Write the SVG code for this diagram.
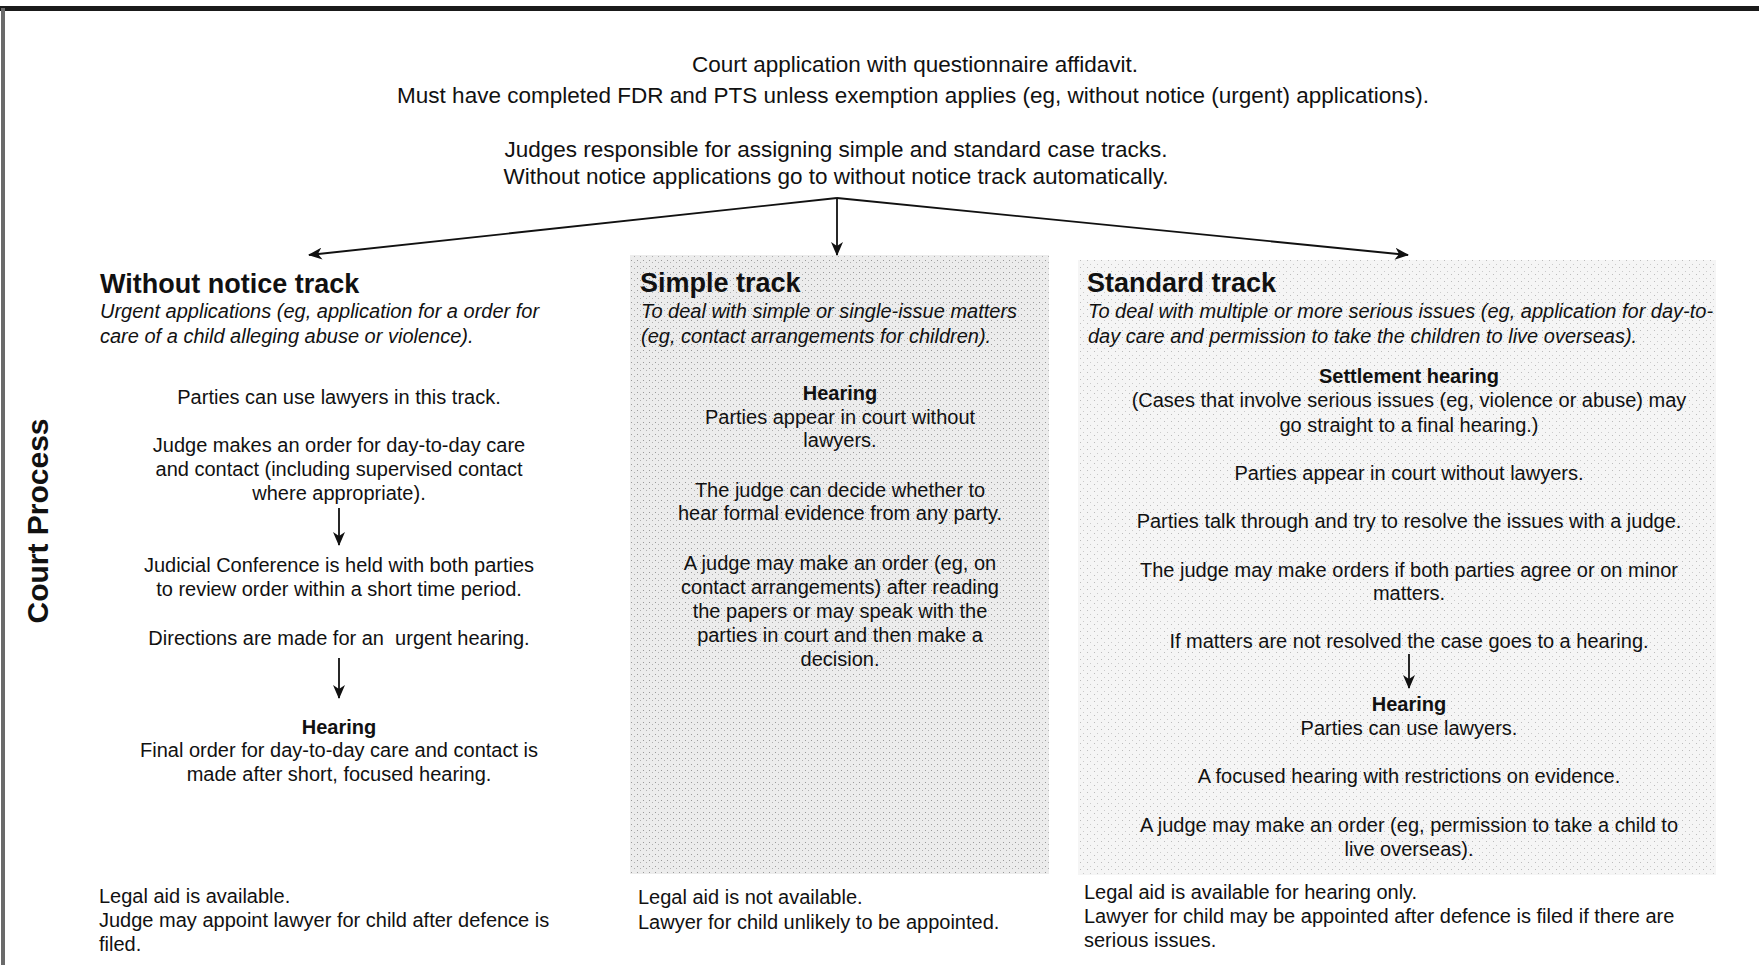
<svg xmlns="http://www.w3.org/2000/svg" width="1759" height="965" viewBox="0 0 1759 965">
<style>
text{font-family:"Liberation Sans",Arial,sans-serif;fill:#111;}
.top{font-size:22.5px;text-anchor:middle;}
.t{font-size:20px;}
.c{font-size:20px;text-anchor:middle;}
.b{font-weight:bold;}
.i{font-style:italic;}
.h{font-size:27px;font-weight:bold;}
.conn{stroke:#111;stroke-width:1.8;fill:none;}
</style>
<defs>
<pattern id="dots" width="6" height="6" patternUnits="userSpaceOnUse">
<rect width="6" height="6" fill="#ececec"/>
<rect x="1" y="2" width="1" height="1" fill="#9a9a9a"/>
<rect x="4" y="4" width="1" height="1" fill="#b0b0b0"/>
</pattern>
<pattern id="dots2" width="7" height="7" patternUnits="userSpaceOnUse">
<rect width="7" height="7" fill="#f5f5f5"/>
<rect x="2" y="1" width="1" height="1" fill="#bcbcbc"/>
<rect x="5" y="5" width="1" height="1" fill="#cacaca"/>
</pattern>
<marker id="ah" markerWidth="14" markerHeight="12" refX="13" refY="6" orient="auto" markerUnits="userSpaceOnUse">
<path d="M0,0 L14,6 L0,12 L4,6 Z" fill="#111"/>
</marker>
</defs>
<rect width="1759" height="965" fill="#fff"/>
<g id="frame">
<rect x="0" y="6" width="1759" height="5" fill="#1a1a1a"/>
<rect x="1" y="8" width="4" height="957" fill="#6a6a6a"/>
</g>
<g id="shading">
<rect x="630" y="255" width="419" height="619" fill="url(#dots)"/>
<rect x="1078" y="260" width="638" height="615" fill="url(#dots2)"/>
</g>
<g id="title-side">
<text class="b" font-size="30" transform="translate(48,521) rotate(-90)" text-anchor="middle">Court Process</text>
</g>
<g id="application">
<text class="top" x="915" y="72">Court application with questionnaire affidavit.</text>
<text class="top" x="913" y="103">Must have completed FDR and PTS unless exemption applies (eg, without notice (urgent) applications).</text>
</g>
<g id="assignment">
<text class="top" x="836" y="157">Judges responsible for assigning simple and standard case tracks.</text>
<text class="top" x="836" y="184">Without notice applications go to without notice track automatically.</text>
</g>
<g id="connectors">
<path class="conn" d="M837,198 L309,255" marker-end="url(#ah)"/>
<path class="conn" d="M837,198 L837,255" marker-end="url(#ah)"/>
<path class="conn" d="M837,198 L1408,255" marker-end="url(#ah)"/>
<path class="conn" d="M339,508 L339,545" marker-end="url(#ah)"/>
<path class="conn" d="M339,658 L339,698" marker-end="url(#ah)"/>
<path class="conn" d="M1409,654 L1409,688" marker-end="url(#ah)"/>
</g>
<g id="without-notice-track">
<text class="h" x="100" y="293">Without notice track</text>
<text class="t i" x="100" y="318">Urgent applications (eg, application for a order for</text>
<text class="t i" x="100" y="343">care of a child alleging abuse or violence).</text>
<text class="c" x="339" y="404">Parties can use lawyers in this track.</text>
<text class="c" x="339" y="452">Judge makes an order for day-to-day care</text>
<text class="c" x="339" y="476">and contact (including supervised contact</text>
<text class="c" x="339" y="500">where appropriate).</text>
<text class="c" x="339" y="572">Judicial Conference is held with both parties</text>
<text class="c" x="339" y="596">to review order within a short time period.</text>
<text class="c" x="339" y="645" xml:space="preserve">Directions are made for an  urgent hearing.</text>
<text class="c b" x="339" y="734">Hearing</text>
<text class="c" x="339" y="757">Final order for day-to-day care and contact is</text>
<text class="c" x="339" y="781">made after short, focused hearing.</text>
<text class="t" x="99" y="903">Legal aid is available.</text>
<text class="t" x="99" y="927">Judge may appoint lawyer for child after defence is</text>
<text class="t" x="99" y="951">filed.</text>
</g>
<g id="simple-track">
<text class="h" x="640" y="292">Simple track</text>
<text class="t i" x="641" y="318">To deal with simple or single-issue matters</text>
<text class="t i" x="641" y="343">(eg, contact arrangements for children).</text>
<text class="c b" x="840" y="400">Hearing</text>
<text class="c" x="840" y="424">Parties appear in court without</text>
<text class="c" x="840" y="447">lawyers.</text>
<text class="c" x="840" y="497">The judge can decide whether to</text>
<text class="c" x="840" y="520">hear formal evidence from any party.</text>
<text class="c" x="840" y="570">A judge may make an order (eg, on</text>
<text class="c" x="840" y="594">contact arrangements) after reading</text>
<text class="c" x="840" y="618">the papers or may speak with the</text>
<text class="c" x="840" y="642">parties in court and then make a</text>
<text class="c" x="840" y="666">decision.</text>
<text class="t" x="638" y="904">Legal aid is not available.</text>
<text class="t" x="638" y="929">Lawyer for child unlikely to be appointed.</text>
</g>
<g id="standard-track">
<text class="h" x="1087" y="292">Standard track</text>
<text class="t i" x="1088" y="318">To deal with multiple or more serious issues (eg, application for day-to-</text>
<text class="t i" x="1088" y="343">day care and permission to take the children to live overseas).</text>
<text class="c b" x="1409" y="383">Settlement hearing</text>
<text class="c" x="1409" y="407">(Cases that involve serious issues (eg, violence or abuse) may</text>
<text class="c" x="1409" y="432">go straight to a final hearing.)</text>
<text class="c" x="1409" y="480">Parties appear in court without lawyers.</text>
<text class="c" x="1409" y="528">Parties talk through and try to resolve the issues with a judge.</text>
<text class="c" x="1409" y="577">The judge may make orders if both parties agree or on minor</text>
<text class="c" x="1409" y="600">matters.</text>
<text class="c" x="1409" y="648">If matters are not resolved the case goes to a hearing.</text>
<text class="c b" x="1409" y="711">Hearing</text>
<text class="c" x="1409" y="735">Parties can use lawyers.</text>
<text class="c" x="1409" y="783">A focused hearing with restrictions on evidence.</text>
<text class="c" x="1409" y="832">A judge may make an order (eg, permission to take a child to</text>
<text class="c" x="1409" y="856">live overseas).</text>
<text class="t" x="1084" y="899">Legal aid is available for hearing only.</text>
<text class="t" x="1084" y="923">Lawyer for child may be appointed after defence is filed if there are</text>
<text class="t" x="1084" y="947">serious issues.</text>
</g>
</svg>
